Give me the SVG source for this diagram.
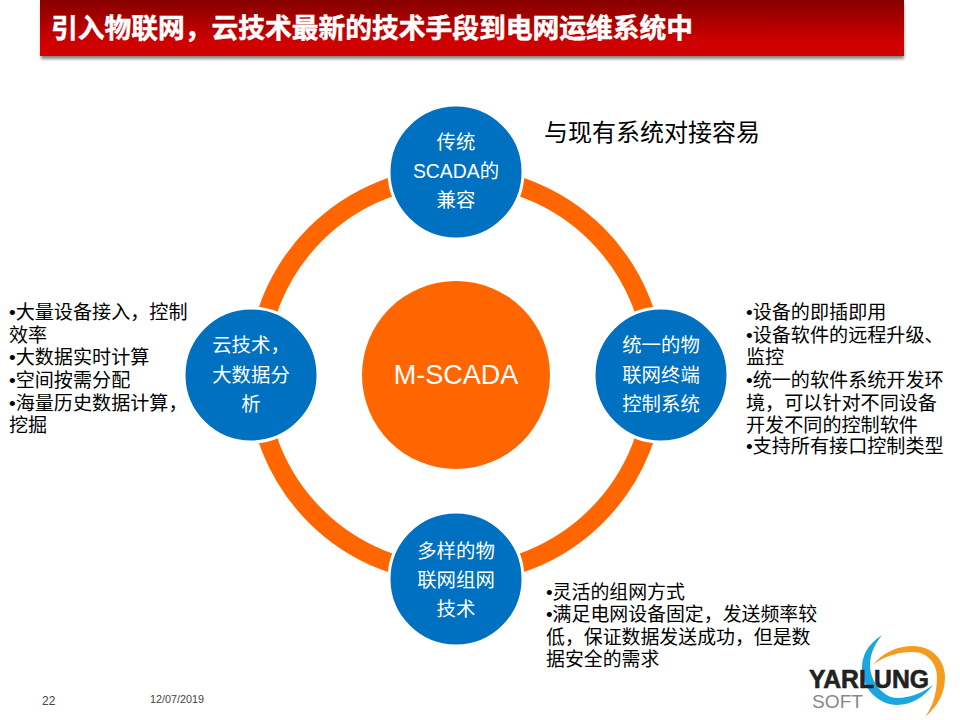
<svg xmlns="http://www.w3.org/2000/svg" width="960" height="720" viewBox="0 0 960 720">
<style>
text{font-family:"Liberation Sans","Noto Sans CJK SC",sans-serif}
.n{fill:#0070c0;stroke:#fff;stroke-width:3}
.w{fill:#fff;font-size:19.4px;text-anchor:middle}
.b{fill:#000;font-size:19.1px}
.c{fill:#000;font-size:18.9px}
</style>
<defs>
<linearGradient id="g" x1="0" y1="0" x2="0" y2="1"><stop offset="0" stop-color="#860000"/><stop offset="0.75" stop-color="#d00000"/><stop offset="1" stop-color="#d20000"/></linearGradient>
<filter id="s" x="-2%" y="-20%" width="104%" height="150%"><feGaussianBlur stdDeviation="1.5"/></filter>
</defs>
<rect width="960" height="720" fill="#fff"/>
<g id="title">
<rect x="41" y="4" width="863" height="55" fill="#888" filter="url(#s)"/>
<rect x="40" y="0" width="864" height="56" fill="url(#g)"/>
<text x="51" y="38" font-size="26.75" font-weight="700" fill="#fff" stroke="#fff" stroke-width="0.5">引入物联网，云技术最新的技术手段到电网运维系统中</text>
</g>
<g id="connectors">
<circle cx="456" cy="375" r="199" fill="none" stroke="#ff6600" stroke-width="19"/>
</g>
<g id="center"><circle cx="456" cy="375" r="94" fill="#ff6600"/><text x="456" y="384" font-size="27" fill="#fff" text-anchor="middle">M-SCADA</text></g>
<g id="node-top"><circle class="n" cx="456" cy="172" r="67"/><text class="w" x="456" y="149">传统</text><text class="w" x="456" y="178">SCADA的</text><text class="w" x="456" y="207">兼容</text></g>
<g id="node-right"><circle class="n" cx="661" cy="375" r="67"/><text class="w" x="661" y="352">统一的物</text><text class="w" x="661" y="382">联网终端</text><text class="w" x="661" y="411">控制系统</text></g>
<g id="node-bottom"><circle class="n" cx="456" cy="579" r="67"/><text class="w" x="456" y="558">多样的物</text><text class="w" x="456" y="587">联网组网</text><text class="w" x="456" y="616">技术</text></g>
<g id="node-left"><circle class="n" cx="251" cy="375" r="67"/><text class="w" x="251" y="352">云技术，</text><text class="w" x="251" y="382">大数据分</text><text class="w" x="251" y="411">析</text></g>
<g id="note-top"><text x="544" y="141" font-size="24" fill="#000">与现有系统对接容易</text></g>
<g id="note-left">
<text class="b" x="9" y="319">•大量设备接入，控制</text><text class="b" x="9" y="342">效率</text><text class="b" x="9" y="364">•大数据实时计算</text><text class="b" x="9" y="387">•空间按需分配</text><text class="b" x="9" y="410">•海量历史数据计算，</text><text class="b" x="9" y="432">挖掘</text>
</g>
<g id="note-right">
<text class="b" x="746" y="319">•设备的即插即用</text><text class="b" x="746" y="342">•设备软件的远程升级、</text><text class="b" x="746" y="364">监控</text><text class="b" x="746" y="387">•统一的软件系统开发环</text><text class="b" x="746" y="410">境，可以针对不同设备</text><text class="b" x="746" y="432">开发不同的控制软件</text><text class="b" x="746" y="453">•支持所有接口控制类型</text>
</g>
<g id="note-bottom">
<text class="c" x="546" y="599">•灵活的组网方式</text><text class="c" x="546" y="621">•满足电网设备固定，发送频率较</text><text class="c" x="546" y="644">低，保证数据发送成功，但是数</text><text class="c" x="546" y="666">据安全的需求</text>
</g>
<g id="footer"><text x="42" y="705" font-size="12" fill="#444">22</text><text x="150" y="703" font-size="10.8" fill="#444">12/07/2019</text></g>
<g id="logo">
<path d="M882 635C868 644 862 655 862 668C862 690 880 705 897 705C912 705 925 696 933 685C922 693 910 698 897 698C884 698 870 682 870 665C870 655 874 645 882 635Z" fill="#1aa7e0"/>
<path d="M873 665C883 652 898 646 913 646C932 646 945 660 945 677C945 693 938 706 925 717C933 706 937 692 937 677C937 663 927 652 913 652C898 652 884 656 873 665Z" fill="#f59c1f"/>
<text x="809" y="688" font-size="25" font-weight="700" fill="#222" stroke="#222" stroke-width="0.6" textLength="120" lengthAdjust="spacingAndGlyphs">YARLUNG</text>
<text x="812" y="708" font-size="19" fill="#888" textLength="51" lengthAdjust="spacingAndGlyphs">SOFT</text>
</g>
</svg>
